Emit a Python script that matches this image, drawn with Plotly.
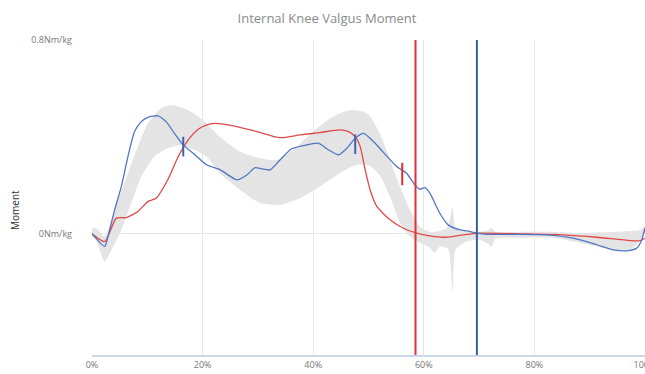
import plotly.graph_objects as go

# Percent of stance phase and knee valgus moment (Nm/kg)
blue_x = [0, 2.3, 2.9, 4.1, 5.3, 6.5, 7.7, 8.9, 10.1, 11.9, 13.4, 14.9, 16.5, 18.6, 20.7,
          23.2, 26.2, 28.0, 29.5, 30.7, 32.2, 34.0, 36.1, 38.2, 40.9, 42.8, 44.6, 46.1,
          47.6, 49.1, 50.9, 52.7, 55.1, 56.9, 58.4, 59.3, 60.2, 61.1, 62.9, 64.4, 66.6,
          67.8, 69.6, 71.4, 76.0, 82.2, 87.0, 91.3, 94.3, 96.7, 98.5, 99.4, 100]
blue_y = [0, -0.052, -0.01, 0.099, 0.195, 0.319, 0.422, 0.463, 0.481, 0.487, 0.463, 0.415,
          0.367, 0.326, 0.285, 0.264, 0.223, 0.243, 0.273, 0.268, 0.264, 0.305, 0.351,
          0.364, 0.374, 0.346, 0.326, 0.353, 0.395, 0.415, 0.381, 0.336, 0.278, 0.25,
          0.202, 0.184, 0.191, 0.168, 0.085, 0.037, 0.016, 0.012, 0.003, -0.002, -0.002,
          -0.004, -0.018, -0.045, -0.066, -0.07, -0.059, -0.025, 0.024]

red_x = [0, 2.3, 4.4, 6.2, 8.3, 10.1, 11.6, 13.7, 15.6, 17.4, 19.2, 20.7, 22.2, 25.8,
         29.8, 34.0, 37.6, 41.2, 44.8, 46.4, 47.6, 48.5, 49.4, 50.3, 51.5, 53.9, 56.3,
         58.7, 61.1, 64.1, 67.2, 70.2, 78.0, 85.2, 91.3, 97.3, 99.1, 100]
red_y = [0, -0.032, 0.065, 0.067, 0.092, 0.133, 0.147, 0.223, 0.319, 0.388, 0.432,
         0.449, 0.456, 0.445, 0.422, 0.397, 0.408, 0.418, 0.429, 0.422, 0.401, 0.36,
         0.264, 0.181, 0.113, 0.058, 0.023, 0.003, -0.008, -0.014, -0.004, 0.003, 0.0,
         -0.004, -0.014, -0.028, -0.028, -0.018]

# Normative corridor (upper / lower bounds)
band_upper_x = [0, 0.9, 2.3, 4.1, 6.5, 8.3, 10.1, 12.5, 14.3, 17.4, 20.4, 23.1, 26.8,
                30.4, 33.4, 36.4, 40.0, 43.6, 46.7, 49.1, 50.3, 52.1, 53.9, 55.7, 57.5,
                59.3, 61.1, 62.9, 64.2, 65.2, 65.8, 68.4, 70.2, 71.6, 72.3, 72.9, 77.4,
                83.4, 88.2, 94.2, 97.3, 99.1, 100]
band_upper_y = [0.025, 0.021, -0.011, 0.099, 0.25, 0.36, 0.456, 0.518, 0.532, 0.511,
                0.463, 0.401, 0.339, 0.312, 0.305, 0.346, 0.422, 0.484, 0.511, 0.504,
                0.484, 0.412, 0.305, 0.194, 0.099, 0.029, 0.008, 0.012, 0.025, 0.107,
                0.021, 0.008, 0.009, 0.016, 0.025, 0.008, 0.008, 0.008, 0.004, 0.008,
                0.012, 0.016, 0.033]
band_lower_x = [0, 0.7, 2.3, 3.5, 5.3, 7.1, 8.9, 11.3, 13.7, 16.1, 18.6, 20.7, 23.1,
                26.8, 30.4, 34.0, 37.6, 41.2, 44.8, 47.9, 50.3, 52.1, 53.9, 55.7, 57.5,
                59.3, 61.1, 62.0, 62.9, 64.4, 65.2, 65.8, 67.8, 70.2, 71.6, 72.3, 72.9,
                77.4, 83.4, 88.2, 94.2, 97.3, 99.1, 100]
band_lower_y = [-0.008, -0.025, -0.114, -0.066, 0.016, 0.127, 0.236, 0.319, 0.353,
                0.367, 0.346, 0.319, 0.25, 0.181, 0.127, 0.12, 0.147, 0.195, 0.25,
                0.285, 0.28, 0.239, 0.154, 0.045, -0.011, -0.037, -0.058, -0.078,
                -0.052, -0.062, -0.24, -0.062, -0.032, -0.025, -0.041, -0.054, -0.021,
                -0.016, -0.016, -0.037, -0.066, -0.066, -0.025, 0.004]

# Event markers
blue_event_x = [16.5, 47.6]
blue_event_y = [0.36, 0.37]
red_event_x = [56.1]
red_event_y = [0.247]

# Toe-off lines
red_toe_off = 58.5
blue_toe_off = 69.6

x_tick_vals = [0, 20, 40, 60, 80, 100]
x_tick_text = ["0%", "20%", "40%", "60%", "80%", "100%"]
y_tick_vals = [0, 0.8]
y_tick_text = ["0Nm/kg", "0.8Nm/kg"]

BLUE = "#5076c4"
RED = "#e04848"
BAND = "#e4e4e4"

fig = go.Figure()

fig.add_trace(go.Scatter(x=band_lower_x, y=band_lower_y, mode="lines",
                         line=dict(width=0, shape="spline", smoothing=0.6),
                         hoverinfo="skip", showlegend=False))
fig.add_trace(go.Scatter(x=band_upper_x, y=band_upper_y, mode="lines",
                         line=dict(width=0, shape="spline", smoothing=0.6),
                         fill="tonexty", fillcolor=BAND,
                         hoverinfo="skip", showlegend=False))

fig.add_trace(go.Scatter(x=red_x, y=red_y, mode="lines",
                         line=dict(color=RED, width=1.3, shape="spline", smoothing=0.6),
                         showlegend=False))
fig.add_trace(go.Scatter(x=blue_x, y=blue_y, mode="lines",
                         line=dict(color=BLUE, width=1.3, shape="spline", smoothing=0.6),
                         showlegend=False))

fig.add_trace(go.Scatter(x=blue_event_x, y=blue_event_y, mode="markers",
                         marker=dict(symbol="line-ns", size=14,
                                     line=dict(color="#3f62ad", width=2)),
                         showlegend=False))
fig.add_trace(go.Scatter(x=red_event_x, y=red_event_y, mode="markers",
                         marker=dict(symbol="line-ns", size=16,
                                     line=dict(color="#e03030", width=2)),
                         showlegend=False))

fig.add_shape(type="line", xref="x", yref="paper", x0=red_toe_off, x1=red_toe_off,
              y0=0, y1=1, line=dict(color="#dc3434", width=2))
fig.add_shape(type="line", xref="x", yref="paper", x0=blue_toe_off, x1=blue_toe_off,
              y0=0, y1=1, line=dict(color="#3a5ca8", width=2))

fig.add_annotation(text="Moment", xref="paper", yref="paper",
                   x=(6 - 92) / 553, y=(355 - 210) / 315, textangle=-90,
                   showarrow=False, font=dict(family="Open Sans", size=10, color="#333"))

fig.update_layout(
    width=645, height=374,
    margin=dict(l=92, r=0, t=40, b=19),
    paper_bgcolor="white", plot_bgcolor="white",
    title=dict(text="Internal Knee Valgus Moment", xref="container", yref="container",
               x=0.507, y=1 - 18 / 374, xanchor="center", yanchor="middle",
               font=dict(family="Open Sans", size=13, color="#8a8a8a")),
    xaxis=dict(range=[0, 100], tickvals=x_tick_vals, ticktext=x_tick_text,
               showgrid=True, gridcolor="#e8e8e8", gridwidth=1, zeroline=False,
               showline=True, linecolor="#ccd6eb", linewidth=1.5,
               automargin=False, ticklabeloverflow="allow",
               tickfont=dict(family="Open Sans", size=9, color="#777")),
    yaxis=dict(range=[-0.5, 0.8], tickvals=y_tick_vals, ticktext=y_tick_text,
               showgrid=True, gridcolor="#e8e8e8", gridwidth=1, zeroline=False,
               showline=False, ticklabelstandoff=19, automargin=False,
               tickfont=dict(family="Open Sans", size=9, color="#777")),
)

fig.write_html("out.html")
